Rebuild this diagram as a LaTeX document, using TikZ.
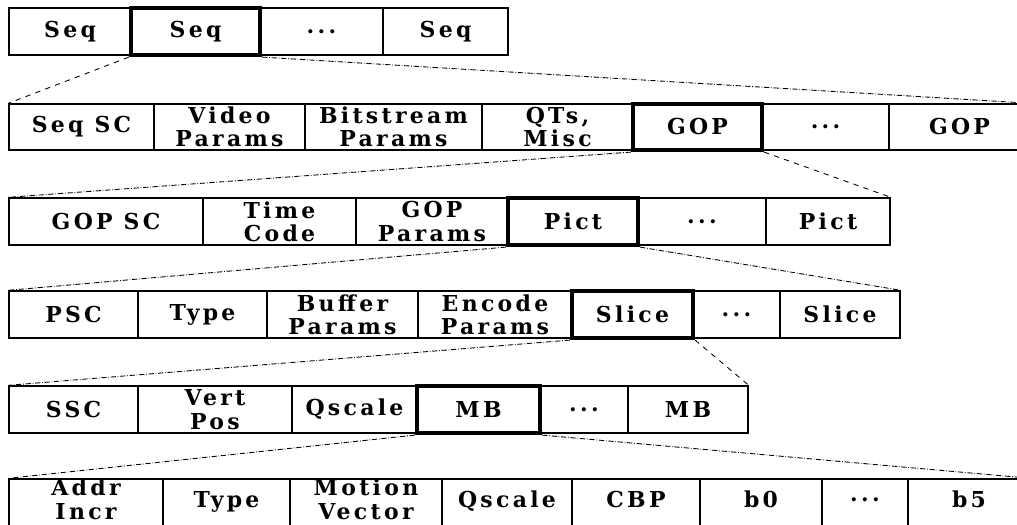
\documentclass[tikz,border=0pt]{standalone}
\usepackage{fontspec}
\newfontfamily\cellfont[LetterSpace=15]{DejaVu Serif}
\newcommand\etcdots{...}
\tikzset{
  cell/.style={draw, line width=0.8pt, inner sep=0pt, align=center,
               font=\cellfont\bfseries\fontsize{12.5}{13.3}\selectfont},
  key/.style={cell, line width=2.4pt},
  zoomA/.style={dashed, line width=0.5pt},
  zoomB/.style={densely dash dot, line width=0.5pt}
}
\begin{document}
\begin{tikzpicture}[x=0.02cm, y=-0.02cm]
\def\u{0.02cm}
\useasboundingbox (0,0) rectangle (1017,524);
\clip (0,0) rectangle (1017,524);
% stream of sequences
\foreach \l/\r/\txt/\s [count=\i] in {9/131/Seq/cell, 131/260/Seq/key, 260/383/\etcdots/cell, 383/508/Seq/cell}
  \node[\s, minimum width={(\r-\l)*\u}, minimum height=47*\u] (str\i) at ({(\l+\r)/2},31.5) {\txt};
% sequence
\foreach \l/\r/\txt/\s [count=\i] in {9/154/Seq SC/cell, 154/305/Video\\Params/cell, 305/482/Bitstream\\Params/cell,
    482/633/{QTs,\\Misc}/cell, 633/762/GOP/key, 762/889/\etcdots/cell, 889/1030/GOP/cell}
  \node[\s, minimum width={(\r-\l)*\u}, minimum height=46*\u] (seq\i) at ({(\l+\r)/2},127) {\txt};
% group of pictures
\foreach \l/\r/\txt/\s [count=\i] in {9/203/GOP SC/cell, 203/356/Time\\Code/cell, 356/508/GOP\\Params/cell,
    508/638/Pict/key, 638/766/\etcdots/cell, 766/890/Pict/cell}
  \node[\s, minimum width={(\r-\l)*\u}, minimum height=47*\u] (gop\i) at ({(\l+\r)/2},221.5) {\txt};
% picture
\foreach \l/\r/\txt/\s [count=\i] in {9/138/PSC/cell, 138/267/Type/cell, 267/418/Buffer\\Params/cell,
    418/572/Encode\\Params/cell, 572/693/Slice/key, 693/780/\etcdots/cell, 780/900/Slice/cell}
  \node[\s, minimum width={(\r-\l)*\u}, minimum height=47*\u] (pic\i) at ({(\l+\r)/2},314.5) {\txt};
% slice
\foreach \l/\r/\txt/\s [count=\i] in {9/138/SSC/cell, 138/292/Vert\\Pos/cell, 292/417/Qscale/cell,
    417/540/MB/key, 540/628/\etcdots/cell, 628/748/MB/cell}
  \node[\s, minimum width={(\r-\l)*\u}, minimum height=47*\u] (slc\i) at ({(\l+\r)/2},409.5) {\txt};
% macroblock
\foreach \l/\r/\txt/\s [count=\i] in {9/163/Addr\\Incr/cell, 163/290/Type/cell, 290/442/Motion\\Vector/cell,
    442/572/Qscale/cell, 572/700/CBP/cell, 700/822/b0/cell, 822/908/\etcdots/cell, 908/1030/b5/cell}
  \node[\s, text depth=5pt, minimum width={(\r-\l)*\u}, minimum height=49*\u] (mb\i) at ({(\l+\r)/2},503.5) {\txt};
% zoom lines
\draw[zoomA] (str2.south west) -- (seq1.north west);
\draw[zoomB] (str2.south east) -- (seq7.north east);
\draw[zoomB] (seq5.south west) -- (gop1.north west);
\draw[zoomA] (seq5.south east) -- (gop6.north east);
\draw[zoomB] (gop4.south west) -- (pic1.north west);
\draw[zoomB] (gop4.south east) -- (pic7.north east);
\draw[zoomB] (pic5.south west) -- (slc1.north west);
\draw[zoomA] (pic5.south east) -- (slc6.north east);
\draw[zoomB] (slc4.south west) -- (mb1.north west);
\draw[zoomB] (slc4.south east) -- (mb8.north east);
\end{tikzpicture}
\end{document}
